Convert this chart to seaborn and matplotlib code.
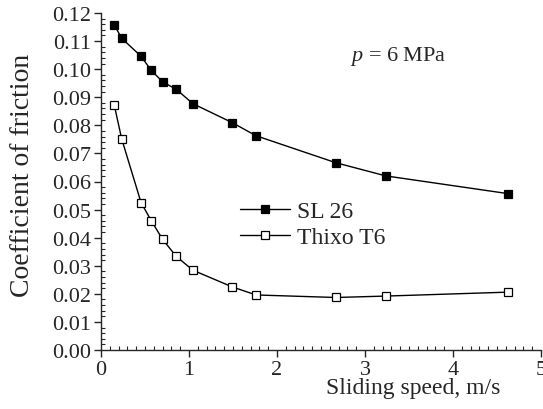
import matplotlib
matplotlib.use("Agg")
import matplotlib.pyplot as plt
import seaborn as sns
import pandas as pd
from matplotlib.ticker import MultipleLocator


# values
SPEED = [0.15, 0.235, 0.455, 0.57, 0.70, 0.856, 1.045, 1.489, 1.761, 2.667, 3.235, 4.621]
SL26 = [0.1158, 0.1110, 0.1046, 0.0996, 0.0955, 0.0928, 0.0877, 0.0810, 0.0763, 0.0667, 0.0620, 0.0557]
THIXO_T6 = [0.0873, 0.0752, 0.0525, 0.0461, 0.0394, 0.0333, 0.0284, 0.0225, 0.0196, 0.0187, 0.0192, 0.0206]
SERIES = ["SL 26", "Thixo T6"]


def build_frame() -> pd.DataFrame:
    df = pd.concat(
        [
            pd.DataFrame({"Speed": SPEED, "Friction": SL26, "Material": SERIES[0]}),
            pd.DataFrame({"Speed": SPEED, "Friction": THIXO_T6, "Material": SERIES[1]}),
        ],
        ignore_index=True,
    )
    return df


sns.set_style("ticks")
plt.rcParams["font.family"] = ["Liberation Serif", "DejaVu Serif"]
plt.rcParams["mathtext.fontset"] = "custom"
plt.rcParams["mathtext.rm"] = "Liberation Serif"
plt.rcParams["mathtext.it"] = "Liberation Serif:italic"

df = build_frame()

fig = plt.figure(figsize=(5.43, 4.10), dpi=100)
ax = fig.add_axes([101 / 543, 1 - 351 / 410, 440 / 543, 337 / 410])

sns.lineplot(
    data=df,
    x="Speed",
    y="Friction",
    hue="Material",
    hue_order=SERIES,
    palette={"SL 26": "black", "Thixo T6": "black"},
    sort=True,
    estimator=None,
    linewidth=1.0,
    legend=False,
    ax=ax,
)

face = {"SL 26": "black", "Thixo T6": "white"}
for line, name in zip(ax.get_lines(), SERIES):
    line.set_marker("s")
    line.set_markersize(5.8)
    line.set_markerfacecolor(face[name])
    line.set_markeredgecolor("black")
    line.set_markeredgewidth(0.9)
    line.set_label(name)

ax.set_xlim(0, 5)
ax.set_ylim(0, 0.12)
ax.xaxis.set_major_locator(MultipleLocator(1))
ax.xaxis.set_minor_locator(MultipleLocator(0.1))
ax.yaxis.set_major_locator(MultipleLocator(0.01))
ax.yaxis.set_minor_locator(MultipleLocator(0.002))
ax.yaxis.set_major_formatter(matplotlib.ticker.FormatStrFormatter("%.2f"))

ax.tick_params(which="major", direction="out", length=5, width=1.0, labelsize=16, pad=2)
ax.tick_params(which="minor", direction="in", length=3, width=0.8)
for side in ["top", "right"]:
    ax.spines[side].set_visible(False)
for side in ["left", "bottom"]:
    ax.spines[side].set_linewidth(1.0)

ax.set_xlabel("Sliding speed, m/s", fontsize=17)
ax.xaxis.set_label_coords(0.709, -0.08)
ax.set_ylabel("Coefficient of friction", fontsize=20)
ax.yaxis.set_label_coords(-0.15, 0.52)

ax.text(0.565, 0.875, "$p$ = 6 MPa", transform=ax.transAxes, fontsize=16, va="center")

ax.legend(
    loc="upper left",
    bbox_to_anchor=(0.316, 0.443),
    frameon=False,
    fontsize=17,
    handlelength=2.1,
    handletextpad=0.3,
    labelspacing=0.2,
    borderpad=0,
    borderaxespad=0,
)

plt.savefig("out.png", dpi=100)
